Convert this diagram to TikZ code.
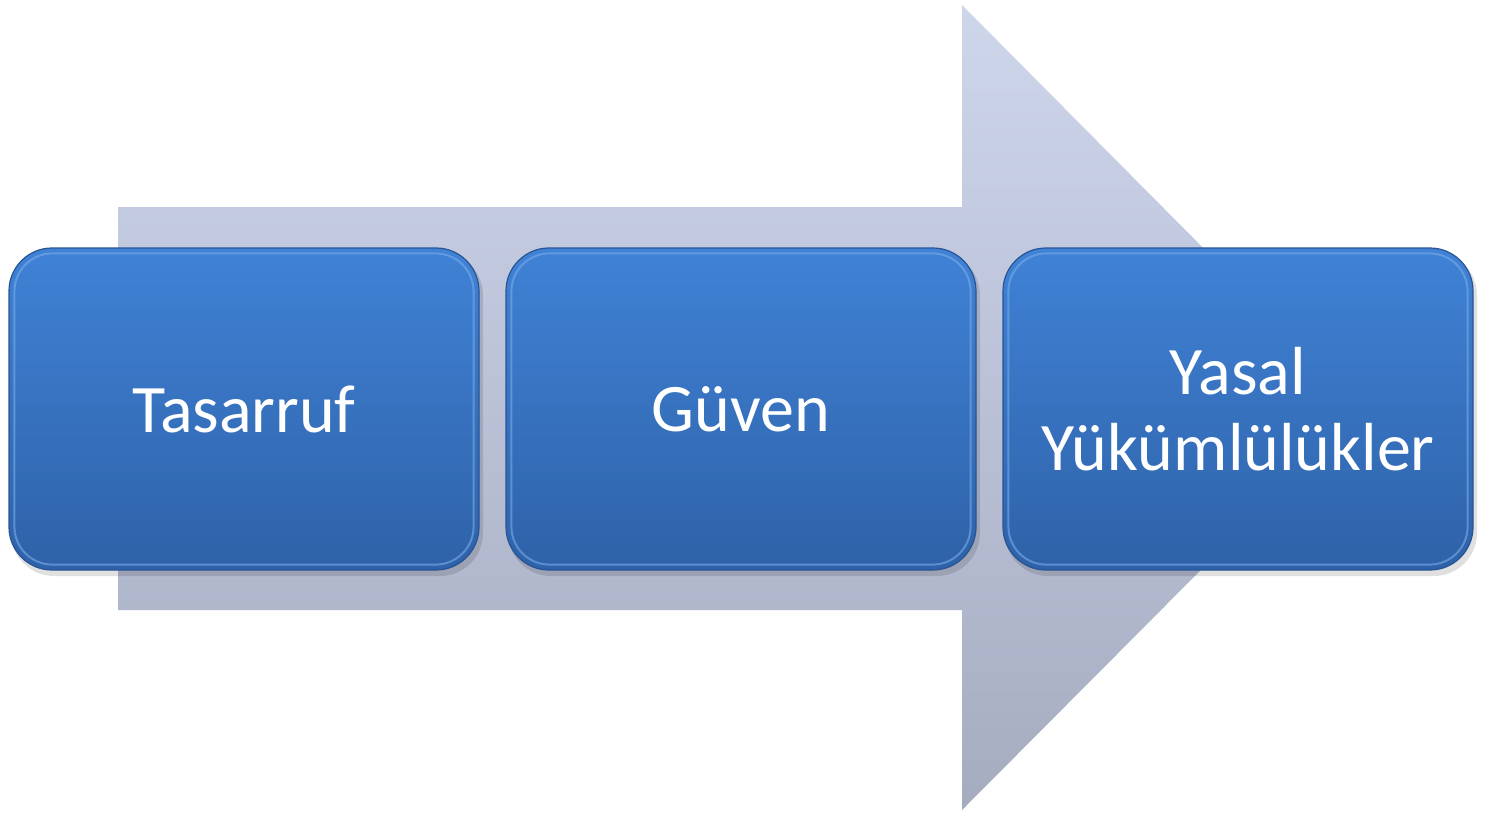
\documentclass[tikz,border=0pt]{standalone}
\usepackage{fontspec}
\setmainfont{Carlito}
\definecolor{arrtop}{RGB}{206,214,236}
\definecolor{arrbot}{RGB}{166,172,192}
\definecolor{boxtop}{RGB}{64,130,214}
\definecolor{boxbot}{RGB}{46,98,168}
\definecolor{boxrim}{RGB}{120,172,232}
\definecolor{boxedge}{RGB}{40,84,150}
\begin{document}
\begin{tikzpicture}[x=1pt,y=-1pt,
  stagebox/.style={rounded corners=43pt, top color=boxtop, bottom color=boxbot,
    draw=boxedge, line width=1.2pt, minimum width=470pt, minimum height=322pt,
    inner sep=0pt},
  rim/.style={rounded corners=38pt, draw=boxrim, line width=2pt, opacity=0.6},
  stagetext/.style={text=white, font=\fontsize{68}{76}\selectfont, align=center}]
\useasboundingbox (0,0) rectangle (1501,816);
\fill[white] (0,0) rectangle (1501,816);
% big arrow
\shade[top color=arrtop, bottom color=arrbot]
  (118,207) -- (962,207) -- (962,5) -- (1362,408) -- (962,810) -- (962,610) -- (118,610) -- cycle;
% shadows
\foreach \cx in {244,741,1238}{
  \fill[black,opacity=0.12,rounded corners=43pt] (\cx-233,252) rectangle (\cx+239,576);
}
\node[stagebox] (a) at (244,409) {};
\node[stagebox] (b) at (741,409) {};
\node[stagebox] (c) at (1238,409) {};
\foreach \n in {a,b,c}{
  \draw[rim] ([xshift=6pt,yshift=-6pt]\n.north west) rectangle ([xshift=-6pt,yshift=6pt]\n.south east);
}
\node[stagetext] (ta) at (a.center) {Tasarruf};
\node[stagetext] (tb) at (b.center) {Güven};
\node[stagetext] (tc) at (c.center) {Yasal\\Yükümlülükler};
\end{tikzpicture}
\end{document}
